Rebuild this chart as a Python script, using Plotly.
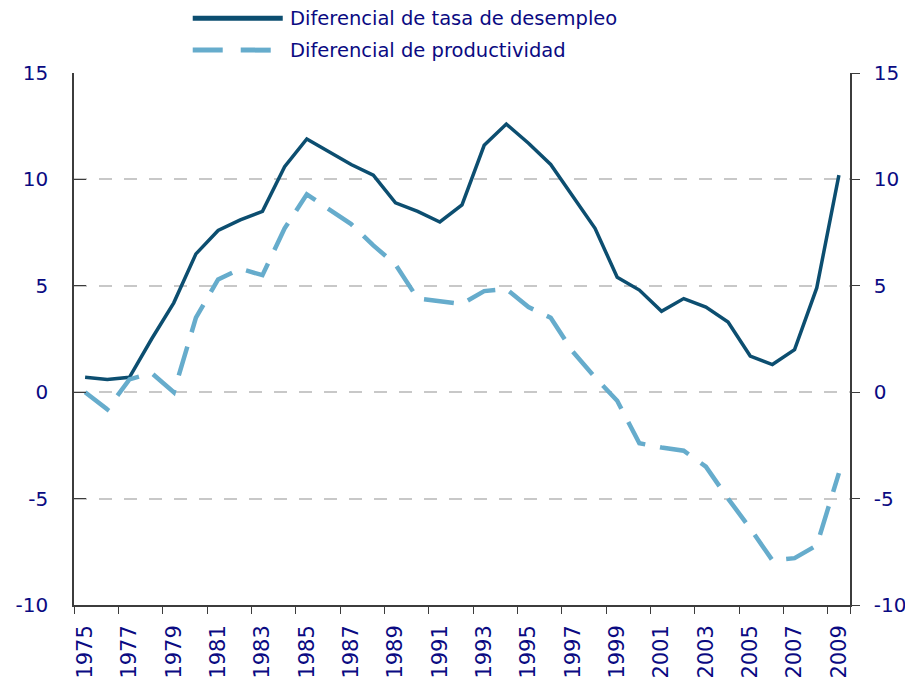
import plotly.graph_objects as go

# data
years = [str(y) for y in range(1975, 2010)]
desempleo = [0.7, 0.6, 0.7, 2.5, 4.2, 6.5, 7.6, 8.1, 8.5, 10.6, 11.9, 11.3, 10.7, 10.2,
             8.9, 8.5, 8.0, 8.8, 11.6, 12.6, 11.7, 10.7, 9.2, 7.7, 5.4, 4.8, 3.8, 4.4,
             4.0, 3.3, 1.7, 1.3, 2.0, 4.9, 10.2]
productividad = [0.0, -0.8, 0.6, 0.9, 0.0, 3.5, 5.3, 5.8, 5.5, 7.7, 9.3, 8.6, 7.9, 6.9,
                 6.0, 4.4, 4.25, 4.15, 4.75, 4.85, 4.0, 3.5, 1.9, 0.7, -0.4, -2.4, -2.6,
                 -2.75, -3.5, -5.0, -6.4, -7.9, -7.8, -7.2, -3.8]
series_names = ['Diferencial de tasa de desempleo', 'Diferencial de productividad']
y_ticks = [-10, -5, 0, 5, 10, 15]
y_ticktext = ['-10', '-5', '0', '5', '10', '15']

dark = 'rgb(12,78,112)'
light = 'rgb(102,172,204)'
navy = 'rgb(10,10,130)'
axis_col = 'rgb(60,60,60)'
font_family = 'DejaVu Sans'

fig = go.Figure()
fig.add_trace(go.Scatter(x=years, y=desempleo, mode='lines', name=series_names[0],
                         line=dict(color=dark, width=3.5)))
fig.add_trace(go.Scatter(x=years, y=productividad, mode='lines', name=series_names[1],
                         yaxis='y2', line=dict(color=light, width=4.5, dash='30px,15px')))

# page body has an 8px margin; keep the figure inside the window so nothing scrolls
fig.update_layout(
    width=897, height=671,
    plot_bgcolor='white', paper_bgcolor='white',
    showlegend=False,
    margin=dict(l=66, r=55, t=65, b=74),
    font=dict(family=font_family, color=navy, size=20),
    xaxis=dict(
        type='category', automargin=False,
        showline=True, linecolor=axis_col, linewidth=1.5,
        ticks='outside', tickson='boundaries', ticklen=7, tickcolor=axis_col,
        tickangle=-90, tickvals=years[::2],
        showgrid=False,
        tickfont=dict(size=21, color=navy),
        ticklabelstandoff=10,
        range=[-0.5, len(years) - 0.5],
    ),
    yaxis=dict(
        range=[-10, 15], tickvals=y_ticks, ticktext=y_ticktext, automargin=False,
        showline=True, linecolor=axis_col, linewidth=1.5,
        ticks='inside', ticklen=12, tickcolor=axis_col,
        showgrid=True, gridcolor='rgb(200,200,200)', gridwidth=1.6, griddash='13px,12px',
        zeroline=False,
        tickfont=dict(size=20, color=navy),
        ticklabelstandoff=20,
    ),
    yaxis2=dict(
        range=[-10, 15], tickvals=y_ticks, ticktext=y_ticktext, automargin=False,
        overlaying='y', side='right',
        showline=True, linecolor=axis_col, linewidth=1.5,
        ticks='outside', ticklen=8, tickcolor=axis_col,
        showgrid=False, zeroline=False,
        tickfont=dict(size=20, color=navy),
        ticklabelstandoff=10,
    ),
)

# legend drawn by hand above the plot
legend_y = [1.103, 1.043]
shapes = [
    dict(type='line', xref='paper', yref='paper', x0=0.153, x1=0.269,
         y0=legend_y[0], y1=legend_y[0], line=dict(color=dark, width=5)),
    dict(type='line', xref='paper', yref='paper', x0=0.153, x1=0.269,
         y0=legend_y[1], y1=legend_y[1], line=dict(color=light, width=5, dash='30px,18px')),
]
annotations = []
for name, yy in zip(series_names, legend_y):
    annotations.append(dict(xref='paper', yref='paper', x=0.276, y=yy, xanchor='left',
                            yanchor='middle', text=name, showarrow=False,
                            font=dict(family=font_family, size=19.5, color=navy)))
fig.update_layout(shapes=shapes, annotations=annotations)

fig.write_html('out.html')
